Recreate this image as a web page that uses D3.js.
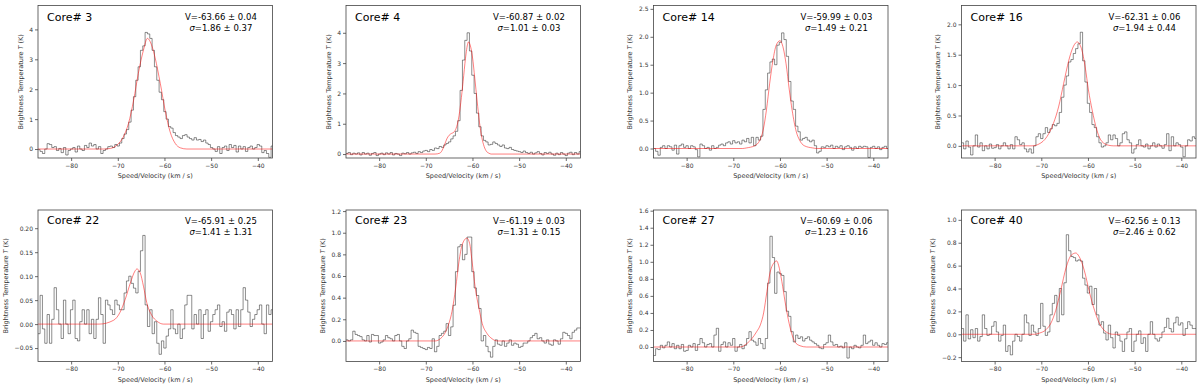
<!DOCTYPE html>
<html>
<head>
	<title>Core spectra</title>
	<meta charset="utf-8">
	<script src="https://cdn.jsdelivr.net/npm/d3@7"></script>
	<style>
	body{
		margin: 0;
		background: #fff;
	}
	svg{
		display: block;
		font-family: "DejaVu Sans", sans-serif;
	}
	</style>
</head>
<body>
<svg id="chart" width="1200" height="387"></svg>
<script>
// channel grid: left edge of the first channel and channel width (km/s)
var vStart = -87.15;
var dv = 0.5;
var xLimits = [-87.1, -36.85];
var xTicks = [-80, -70, -60, -50, -40];

var cores = [3, 4, 14, 16, 22, 23, 27, 40];
var fitV = ["-63.66 ± 0.04", "-60.87 ± 0.02", "-59.99 ± 0.03", "-62.31 ± 0.06",
	"-65.91 ± 0.25", "-61.19 ± 0.03", "-60.69 ± 0.06", "-62.56 ± 0.13"];
var fitSigma = ["1.86 ± 0.37", "1.01 ± 0.03", "1.49 ± 0.21", "1.94 ± 0.44",
	"1.41 ± 1.31", "1.31 ± 0.15", "1.23 ± 0.16", "2.46 ± 0.62"];
var yLimits = [[-0.30, 4.80], [-0.13, 4.90], [-0.17, 2.56], [-0.20, 2.31],
	[-0.078, 0.238], [-0.19, 1.21], [-0.17, 1.608], [-0.238, 1.086]];
var yTicks = [
	[0, 1, 2, 3, 4],
	[0, 1, 2, 3, 4],
	[0, 0.5, 1, 1.5, 2, 2.5],
	[0, 0.5, 1, 1.5, 2],
	[-0.05, 0, 0.05, 0.1, 0.15, 0.2],
	[0, 0.2, 0.4, 0.6, 0.8, 1, 1.2],
	[0, 0.2, 0.4, 0.6, 0.8, 1, 1.2, 1.4, 1.6],
	[-0.2, 0, 0.2, 0.4, 0.6, 0.8, 1]
];
var yFormats = ["d", "d", ".1f", ".1f", ".2f", ".1f", ".1f", ".1f"];

// brightness temperature per channel (K)
var spec3 = [-0.02, -0.08, -0.15, 0.0, 0.18, 0.15, 0.05, 0.08, -0.05, 0.02, -0.12, 0.05, -0.2, -0.05,
	0.0, 0.05, -0.1, 0.1, 0.0, -0.05, 0.12, 0.05, 0.2, 0.1, 0.15, 0.0, 0.08, -0.15,
	-0.05, 0.0, 0.08, 0.1, 0.05, 0.15,
	0.1, 0.2, 0.35, 0.5, 0.65, 0.9, 1.3, 1.75, 2.3, 2.75, 3.3, 3.45, 3.9, 3.85, 3.7, 3.3, 2.75, 2.3, 1.9, 1.65,
	1.25, 1.0, 0.75, 0.7, 0.55, 0.45, 0.4, 0.35, 0.45, 0.48, 0.4, 0.35, 0.3, 0.38, 0.3, 0.32, 0.25, 0.3, 0.2, 0.15,
	0.05, 0.0, -0.08, 0.08, -0.15, 0.05, 0.1, -0.05, 0.15, 0.05, 0.12, -0.1, 0.1, 0.0, 0.08, -0.08, 0.05, 0.1,
	0.0, 0.05, 0.15, 0.1, -0.12, -0.05, -0.15, -0.28, 0.1];
var spec4 = [0.02, 0.05, -0.02, 0.03, 0.0, 0.04, -0.03, 0.05, 0.0, 0.03, -0.04, 0.02, 0.05, -0.05, 0.0, 0.03, -0.02,
	0.04, 0.0, 0.05, -0.03, 0.02, 0.0, -0.05, 0.03, 0.01, 0.05, 0.0, 0.04, 0.06, 0.02, 0.08, 0.05, 0.1,
	0.12, 0.08, 0.15, 0.12, 0.2, 0.18, 0.25, 0.22, 0.3, 0.35, 0.4, 0.5, 0.6, 0.75, 1.1, 2.1, 3.1, 3.75, 4.0, 3.4,
	2.6, 2.0, 1.35, 0.9, 0.6, 0.45, 0.4, 0.3, 0.32, 0.4, 0.35, 0.3, 0.25, 0.3, 0.2, 0.18, 0.22, 0.15, 0.12, 0.1,
	0.08, 0.05, 0.1, 0.05, 0.02, 0.06, 0.0, 0.04, 0.08, 0.02, -0.03, 0.05, 0.02, 0.06, 0.0, -0.04, 0.03, -0.02,
	0.05, 0.0, -0.05, 0.03, 0.06, -0.02, 0.05, 0.0, 0.08];
var spec14 = [0.0, -0.05, -0.12, 0.02, 0.05, 0.0, 0.05, 0.03, -0.03, 0.06, -0.1, 0.05, 0.08, 0.02, 0.05, 0.0, 0.05,
	0.03, -0.02, -0.15, 0.08, 0.05, 0.0, 0.02, -0.03, 0.05, 0.0, 0.02, 0.06, 0.08, 0.05, 0.1, 0.12, 0.08,
	0.14, 0.1, 0.12, 0.08, 0.15, 0.12, 0.18, 0.1, 0.2, 0.05, 0.2, 0.15, 0.22, 0.7, 1.05, 1.35, 1.55, 1.6, 1.5,
	1.85, 1.9, 2.07, 1.95, 1.65, 1.2, 0.85, 0.7, 0.4, 0.3, 0.15, 0.18, 0.2, 0.15, 0.12, 0.15, 0.05, -0.08, -0.05,
	0.03, 0.02, 0.05, 0.03, 0.06, 0.0, 0.04, 0.02, 0.05, -0.02, 0.03, 0.05, 0.02, -0.03, 0.03, 0.0, 0.04, 0.02,
	0.04, 0.03, -0.16, 0.02, 0.04, 0.0, 0.03, -0.02, 0.02, 0.04, 0.0];
var spec16 = [0.05, -0.05, 0.08, -0.02, -0.15, 0.0, 0.18, -0.02, 0.05, -0.08, 0.0, -0.05, 0.03, -0.04, -0.03, 0.02,
	-0.05, 0.0, 0.05, 0.0, -0.05, 0.02, -0.05, 0.15, 0.1, 0.02, 0.05, -0.05, -0.1, -0.05, -0.12, 0.0, 0.15, 0.2,
	0.12, 0.2, 0.3, 0.22, 0.28, 0.35, 0.33, 0.37, 0.55, 0.8, 1.0, 1.15, 1.38, 1.42, 1.52, 1.6, 1.68, 1.87, 1.4,
	1.05, 0.7, 0.55, 0.35, 0.3, 0.15, 0.05, -0.02, 0.0, 0.05, 0.18, 0.1, 0.18, 0.12, 0.0, 0.05, 0.2, 0.23, 0.1,
	0.05, -0.12, -0.05, 0.02, 0.1, 0.0, -0.02, 0.03, -0.05, 0.0, 0.05, -0.02, 0.03, 0.0, -0.04, 0.02, 0.2, -0.08,
	0.15, 0.0, 0.05, 0.02, -0.02, -0.18, 0.0, 0.1, 0.08, 0.15, 0.12];
var spec22 = [-0.02, 0.06, -0.01, -0.04, 0.02, -0.04, 0.01, 0.076, 0.03, 0.0, -0.03, 0.05, 0.0, -0.02, 0.03, 0.05,
	-0.03, -0.035, 0.005, 0.03, 0.0, 0.03, -0.02, 0.01, -0.03, 0.01, 0.055, 0.02, -0.04, 0.05, 0.04, 0.03, 0.02,
	0.05, 0.04, 0.03, 0.03, 0.065, 0.09, 0.1, 0.085, 0.075, 0.065, 0.11, 0.153, 0.185, 0.04, -0.005, 0.03, -0.02,
	0.005, -0.04, -0.063, -0.035, -0.05, -0.025, -0.01, 0.03, -0.01, -0.02, 0.0, -0.03, -0.01, 0.04, 0.06, 0.06,
	-0.01, 0.02, 0.0, 0.03, -0.03, 0.02, 0.03, -0.015, 0.005, 0.02, 0.03, 0.04, -0.005, 0.005, -0.015, 0.025, 0.03,
	0.02, -0.01, 0.03, -0.005, 0.03, 0.076, 0.05, 0.025, -0.005, 0.01, 0.02, 0.03, 0.04, 0.0, -0.02, 0.04, 0.02, 0.03];
var spec23 = [0.01, 0.0, 0.01, 0.09, 0.06, 0.05, 0.04, 0.01, 0.0, 0.05, -0.01, 0.06, 0.05, 0.05, -0.02, -0.01, 0.01,
	0.05, 0.03, 0.02, 0.0, 0.05, 0.06, 0.0, -0.05, -0.07, 0.0, 0.02, 0.1, 0.08, 0.07, -0.05, -0.06, -0.07, -0.08,
	-0.06, -0.07, 0.02, -0.1, -0.05, 0.05, 0.07, 0.09, 0.16, 0.05, 0.13, 0.33, 0.64, 0.87, 0.89, 0.75, 0.8, 0.96,
	0.96, 0.64, 0.49, 0.42, 0.3, 0.0, 0.05, -0.05, -0.1, -0.15, -0.05, 0.01, -0.03, -0.04, 0.0, -0.05, -0.02, 0.01,
	-0.04, -0.02, -0.03, -0.06, -0.05, -0.02, -0.02, 0.0, 0.03, 0.05, 0.07, 0.02, 0.03, 0.0, -0.02, 0.01, -0.03,
	-0.04, 0.01, 0.0, -0.03, 0.02, 0.08, 0.07, 0.05, 0.02, 0.08, 0.1, 0.12, 0.12];
var spec27 = [-0.1, -0.02, -0.03, 0.02, -0.01, 0.02, 0.06, 0.0, 0.04, -0.02, 0.02, -0.02, 0.03, -0.05, -0.04, 0.02,
	0.0, 0.04, -0.04, 0.03, 0.1, 0.05, 0.0, 0.03, 0.04, 0.0, 0.14, 0.22, -0.05, 0.03, 0.06, 0.0, 0.05, 0.02, 0.1,
	-0.05, 0.0, 0.03, -0.02, 0.02, 0.1, 0.18, 0.08, 0.06, 0.02, 0.1, 0.04, -0.02, 0.1, 0.75, 1.3, 1.05, 0.63, 0.88,
	0.86, 0.84, 0.65, 0.42, 0.36, 0.18, 0.06, 0.14, 0.1, 0.12, 0.07, 0.1, 0.12, 0.08, 0.06, 0.04, 0.02, -0.01,
	-0.02, 0.03, 0.05, 0.14, 0.06, 0.02, 0.03, 0.0, 0.01, -0.01, 0.05, -0.13, 0.0, -0.02, 0.02, 0.0, -0.01, 0.02,
	0.14, 0.04, 0.06, 0.08, 0.02, 0.05, 0.02, 0.0, 0.04, 0.03, 0.05];
var spec40 = [0.05, -0.06, 0.17, -0.04, 0.04, -0.03, 0.05, -0.06, -0.02, 0.17, 0.05, -0.01, 0.0, 0.07, 0.11, 0.02,
	-0.06, -0.01, 0.08, -0.15, -0.1, -0.18, -0.06, 0.0, -0.02, -0.06, 0.0, 0.17, 0.1, -0.01, 0.08, 0.02, -0.01,
	0.05, 0.27, 0.07, -0.01, 0.02, 0.17, 0.27, 0.34, 0.11, 0.4, 0.17, 0.45, 0.87, 0.73, 0.68, 0.67, 0.64, 0.65,
	0.64, 0.49, 0.43, 0.36, 0.42, 0.26, 0.4, 0.17, 0.08, 0.11, 0.01, -0.05, 0.08, -0.03, -0.12, 0.02, -0.01, -0.06,
	-0.15, -0.04, 0.02, 0.05, -0.15, -0.06, 0.0, 0.03, -0.08, -0.03, -0.15, 0.0, 0.11, 0.0, -0.04, -0.06, -0.03,
	0.02, 0.06, 0.14, 0.05, 0.02, 0.1, 0.15, 0.08, 0.1, -0.01, 0.05, 0.11, 0.08, 0.05, 0.05];

// fitted profiles, [velocity, T]
var fit3 = [[-87.15, 0], [-73, 0], [-71.6, 0.02], [-70.2, 0.13], [-68.8, 0.41], [-67.7, 0.86], [-66.6, 1.64],
	[-65.6, 2.53], [-64.5, 3.31], [-63.66, 3.7], [-62.7, 3.45], [-62, 3.05], [-60.9, 2.2], [-59.8, 1.25],
	[-58.8, 0.58], [-57.7, 0.19], [-56.6, 0.04], [-55.2, 0], [-36.8, 0]];
var fit4 = [[-87.15, 0], [-68, 0], [-67, 0.03], [-66.5, 0.12], [-66, 0.3], [-65.5, 0.5], [-65, 0.62], [-64.5, 0.68],
	[-64, 0.72], [-63.5, 0.85], [-63, 1.15], [-62.5, 1.7], [-62, 2.4], [-61.5, 3.15], [-61, 3.65], [-60.85, 3.7],
	[-60.5, 3.6], [-60, 3.2], [-59.5, 2.5], [-59, 1.75], [-58.5, 1.05], [-58, 0.55], [-57.5, 0.25], [-57, 0.09],
	[-56.5, 0.03], [-56, 0], [-36.8, 0]];
var fit14 = [[-87.15, 0], [-68, 0], [-67.2, 0.01], [-65.4, 0.05], [-64.3, 0.15], [-63.6, 0.33], [-62.9, 0.69],
	[-62.2, 1.17], [-61.5, 1.58], [-60.8, 1.85], [-60.0, 1.93], [-59.3, 1.8], [-58.7, 1.52], [-58.0, 1.05],
	[-57.4, 0.69], [-56.5, 0.3], [-55.8, 0.15], [-54.8, 0.05], [-53, 0.01], [-52, 0], [-36.8, 0]];
var fit16 = [[-87.15, 0], [-72, 0], [-70.5, 0.03], [-68.8, 0.15], [-67.4, 0.37], [-66.3, 0.64], [-65.2, 1.03],
	[-64.1, 1.41], [-63.1, 1.64], [-62.3, 1.71], [-61.4, 1.6], [-60.6, 1.3], [-59.9, 0.92], [-59.1, 0.59],
	[-58.1, 0.26], [-57, 0.07], [-55.6, 0.01], [-54.5, 0], [-36.8, 0]];
var fit22 = [[-87.15, 0], [-74, 0], [-70.9, 0.008], [-69.5, 0.025], [-68.4, 0.052], [-67.3, 0.086], [-66.3, 0.111],
	[-65.9, 0.115], [-65.2, 0.107], [-64.5, 0.079], [-63.8, 0.045], [-62.7, 0.018], [-61.6, 0.006], [-60.2, 0],
	[-36.8, 0]];
var fit23 = [[-87.15, 0], [-68, 0], [-66.9, 0.02], [-65.4, 0.12], [-64.4, 0.27], [-63.6, 0.49], [-62.9, 0.73],
	[-62.2, 0.89], [-61.2, 0.95], [-60.6, 0.9], [-60.1, 0.74], [-59.4, 0.49], [-58.6, 0.3], [-57.9, 0.16],
	[-56.9, 0.07], [-55.8, 0.02], [-54.7, 0], [-36.8, 0]];
var fit27 = [[-87.15, 0], [-68.5, 0], [-67.1, 0.04], [-66, 0.1], [-65, 0.18], [-64.2, 0.26], [-63.5, 0.4],
	[-62.8, 0.65], [-62.1, 0.88], [-61.4, 0.98], [-60.7, 1.01], [-60.3, 0.96], [-59.6, 0.77], [-58.9, 0.53],
	[-58.2, 0.32], [-57.5, 0.16], [-56.8, 0.06], [-55.7, 0.015], [-54.3, 0], [-36.8, 0]];
var fit40 = [[-87.15, 0], [-71.5, 0], [-70.4, 0.01], [-69, 0.04], [-67.9, 0.1], [-66.9, 0.21], [-65.8, 0.39],
	[-64.7, 0.58], [-63.6, 0.69], [-62.6, 0.71], [-61.9, 0.68], [-60.8, 0.56], [-59.7, 0.37], [-58.6, 0.21],
	[-57.6, 0.1], [-56.1, 0.02], [-54.7, 0], [-36.8, 0]];

var spectra = [spec3, spec4, spec14, spec16, spec22, spec23, spec27, spec40];
var fits = [fit3, fit4, fit14, fit16, fit22, fit23, fit27, fit40];

// panel grid
var colLeft = [38, 346, 653.5, 961.5];
var rowTop = [5.5, 210];
var rowHeight = [152.5, 151.5];
var boxW = 234.5;

var svg = d3.select("#chart");

cores.forEach(function(core, k){
	var col = k % 4, row = Math.floor(k / 4);
	var h = rowHeight[row];

	var x = d3.scaleLinear().domain(xLimits).range([0, boxW]);
	var y = d3.scaleLinear().domain(yLimits[k]).range([h, 0]);

	var g = svg.append("g")
		.attr("transform", "translate(" + colLeft[col] + "," + rowTop[row] + ")");

	g.append("clipPath").attr("id", "clip" + k)
		.append("rect").attr("width", boxW).attr("height", h);

	// spectrum as steps over channel edges
	var spec = spectra[k];
	var pts = spec.map(function(t, i){ return [vStart + i * dv, t]; });
	pts.push([vStart + spec.length * dv, spec[spec.length - 1]]);

	var stepLine = d3.line()
		.x(function(d){ return x(d[0]); })
		.y(function(d){ return y(d[1]); })
		.curve(d3.curveStepAfter);

	g.append("path")
		.attr("clip-path", "url(#clip" + k + ")")
		.attr("d", stepLine(pts))
		.attr("fill", "none")
		.attr("stroke", "#000")
		.attr("stroke-opacity", 0.5)
		.attr("stroke-width", 0.9);

	var fitLine = d3.line()
		.x(function(d){ return x(d[0]); })
		.y(function(d){ return y(d[1]); })
		.curve(d3.curveMonotoneX);

	g.append("path")
		.attr("clip-path", "url(#clip" + k + ")")
		.attr("d", fitLine(fits[k]))
		.attr("fill", "none")
		.attr("stroke", "red")
		.attr("stroke-opacity", 0.5)
		.attr("stroke-width", 1);

	// axes
	var xAxis = g.append("g")
		.attr("transform", "translate(0," + h + ")")
		.call(d3.axisBottom(x).tickValues(xTicks).tickSize(3).tickPadding(2.5).tickFormat(d3.format("d")));
	var yAxis = g.append("g")
		.call(d3.axisLeft(y).tickValues(yTicks[k]).tickSize(3).tickPadding(2).tickFormat(d3.format(yFormats[k])));

	[xAxis, yAxis].forEach(function(a){
		a.attr("font-size", 6).attr("font-family", "DejaVu Sans");
		a.select(".domain").remove();
		a.selectAll(".tick line").attr("stroke", "#444").attr("stroke-width", 0.8);
		a.selectAll(".tick text").attr("fill", "#333");
	});

	g.append("rect")
		.attr("width", boxW)
		.attr("height", h)
		.attr("fill", "none")
		.attr("stroke", "#444")
		.attr("stroke-width", 0.8);

	g.append("text")
		.attr("x", boxW / 2)
		.attr("y", h + 20)
		.attr("text-anchor", "middle")
		.attr("font-size", 6.5)
		.attr("fill", "#333")
		.text("Speed/Velocity (km / s)");

	var bb = yAxis.node().getBBox();
	var ylab = g.append("text")
		.attr("transform", "translate(" + (bb.x - 6.5) + "," + (h / 2) + ") rotate(-90)")
		.attr("text-anchor", "middle")
		.attr("font-size", 6.5)
		.attr("fill", "#333");
	ylab.append("tspan").text("Brightness Temperature ");
	ylab.append("tspan").attr("font-style", "italic").text("T");
	ylab.append("tspan").text(" (K)");

	// title and fit result
	g.append("text")
		.attr("x", 9)
		.attr("y", row == 0 ? 15.5 : 14.2)
		.attr("font-size", 11)
		.attr("fill", "#000")
		.text("Core# " + core);

	var note = g.append("g")
		.attr("font-size", 8.5)
		.attr("fill", "#000")
		.attr("text-anchor", "middle");
	note.append("text")
		.attr("x", boxW * 0.78)
		.attr("y", row == 0 ? 14.3 : 13.6)
		.text("V=" + fitV[k]);
	var s = note.append("text")
		.attr("x", boxW * 0.78)
		.attr("y", row == 0 ? 25.6 : 24.5);
	s.append("tspan").attr("font-style", "italic").text("σ");
	s.append("tspan").text("=" + fitSigma[k]);
});
</script>
</body>
</html>
